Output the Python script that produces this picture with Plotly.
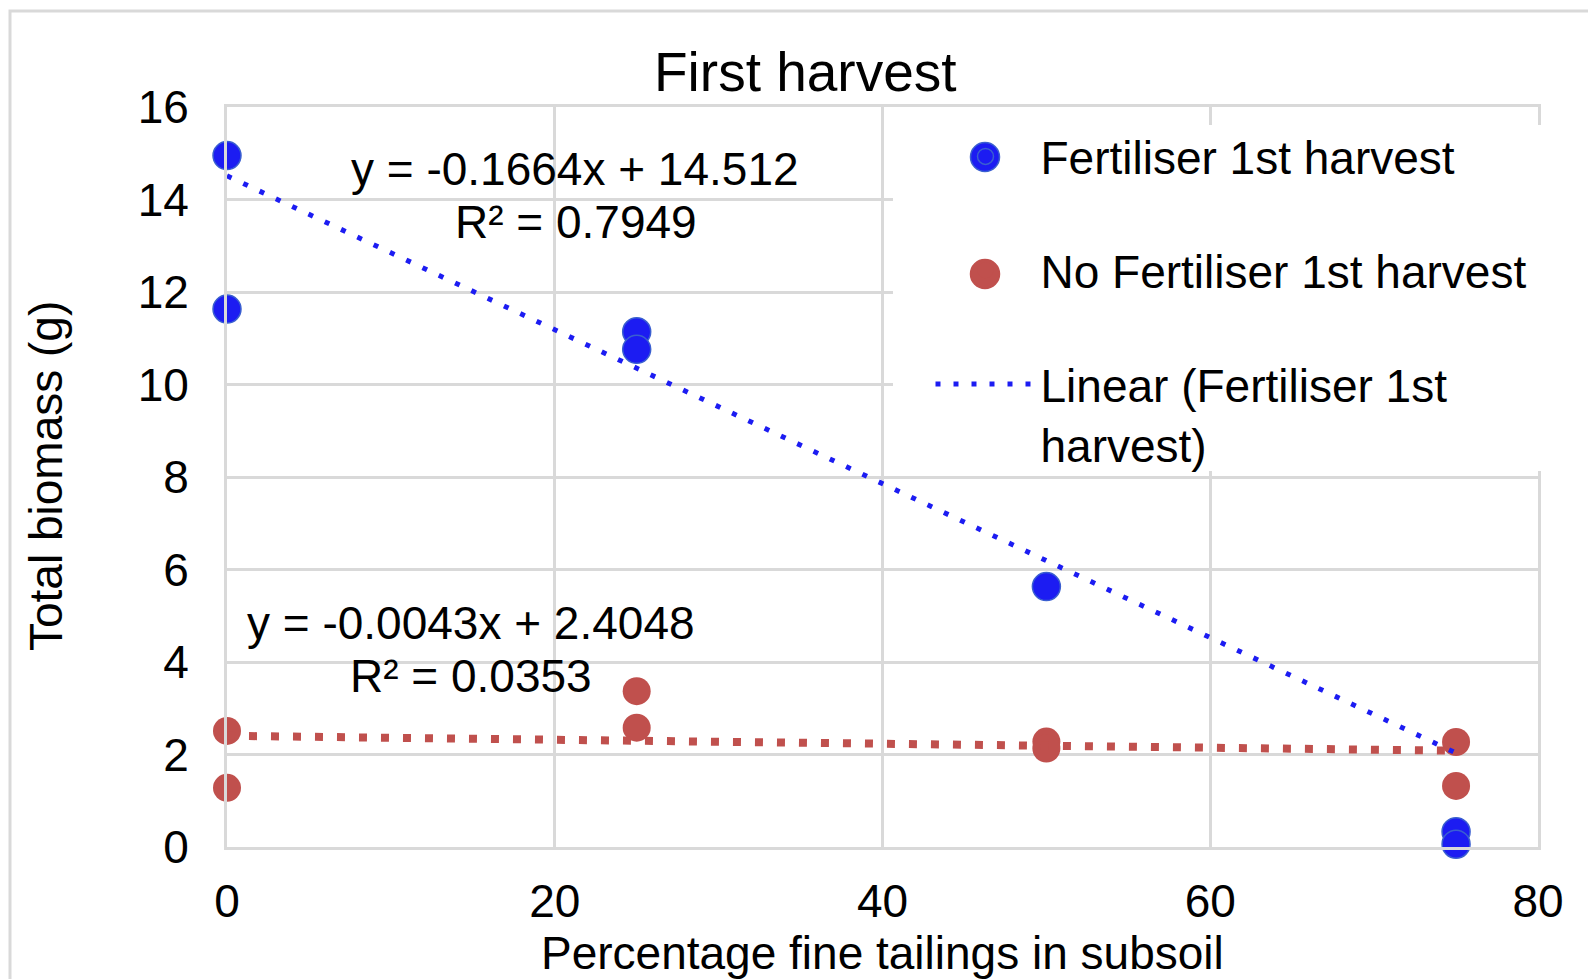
import plotly.graph_objects as go

# ---- data ----
pct_fert = [0, 0, 25, 25, 50, 75, 75]
biomass_fert = [14.95, 11.63, 11.14, 10.76, 5.63, 0.33, 0.06]

pct_nofert = [0, 0, 25, 25, 50, 50, 75, 75]
biomass_nofert = [2.51, 1.28, 3.37, 2.58, 2.28, 2.13, 2.27, 1.32]

trend_x = [0, 75]
fert_slope, fert_intercept, fert_r2 = -0.1664, 14.512, 0.7949
nofert_slope, nofert_intercept, nofert_r2 = -0.0043, 2.4048, 0.0353

x_ticks = [0, 20, 40, 60, 80]
y_ticks = [0, 2, 4, 6, 8, 10, 12, 14, 16]

fert_trend_y = [fert_slope * x + fert_intercept for x in trend_x]
nofert_trend_y = [nofert_slope * x + nofert_intercept for x in trend_x]

FONT = "Liberation Sans, Arial, sans-serif"
BLUE = "#1c1cf2"
BLUE_EDGE = "#3a5fd0"
RED = "#c0504d"
GRID = "#d9d9d9"

# plot area in pixels
W, H = 1588, 979
L, R, T, B = 227, 1538, 107, 847

def px(xp):
    return (xp - L) / (R - L)

def py(yp):
    return (B - yp) / (B - T)

fig = go.Figure()

fig.add_trace(go.Scatter(
    x=pct_fert, y=biomass_fert, mode="markers", name="Fertiliser 1st harvest",
    legendgroup="a", cliponaxis=False,
    marker=dict(size=28, color=BLUE, line=dict(color=BLUE_EDGE, width=1.5)),
))
fig.add_trace(go.Scatter(
    x=pct_nofert, y=biomass_nofert, mode="markers", name="No Fertiliser 1st harvest",
    legendgroup="b", cliponaxis=False,
    marker=dict(size=28, color=RED, line=dict(color=RED, width=0)),
))
fig.add_trace(go.Scatter(
    x=trend_x, y=fert_trend_y, mode="lines", name="Linear (Fertiliser 1st<br>harvest)",
    legendgroup="c", cliponaxis=False,
    line=dict(color=BLUE, width=5, dash="5px,13px"),
))
fig.add_trace(go.Scatter(
    x=trend_x, y=nofert_trend_y, mode="lines", name="Linear (No Fertiliser 1st harvest)",
    showlegend=False, cliponaxis=False,
    line=dict(color=RED, width=8, dash="8px,14px"),
))

annotations = [
    dict(text="First harvest", x=px(805), y=py(72), font=dict(size=55)),
    dict(text=f"y = {fert_slope}x + {fert_intercept}", x=px(575), y=py(169)),
    dict(text=f"R² = {fert_r2}", x=px(576), y=py(222)),
    dict(text=f"y = {nofert_slope}x + {nofert_intercept}", x=px(471), y=py(623)),
    dict(text=f"R² = {nofert_r2}", x=px(471), y=py(676)),
    dict(text="Percentage fine tailings in subsoil", x=px(882), y=py(953)),
    dict(text="Total biomass (g)", x=px(46), y=py(476), textangle=-90),
]
for a in annotations:
    a.update(xref="paper", yref="paper", showarrow=False, xanchor="center", yanchor="middle")
    a.setdefault("font", dict(size=46))
    a["font"].setdefault("color", "black")

# legend panel (white box hiding gridlines) and larger legend marker discs
LEG_X0, LEG_Y0, LEG_Y1 = 893, 125, 471
shapes = [
    dict(type="rect", xref="paper", yref="paper",
         x0=px(10), y0=-0.4, x1=1.2, y1=py(11),
         line=dict(color=GRID, width=3), fillcolor="rgba(0,0,0,0)", layer="below"),
    dict(type="rect", xref="paper", yref="paper",
         x0=px(LEG_X0), x1=px(1575), y0=py(LEG_Y1), y1=py(LEG_Y0),
         line=dict(width=0), fillcolor="white", layer="above"),
]
for cy, col, edge in [(157, BLUE, BLUE_EDGE), (274, RED, RED)]:
    r = 14.5
    cx = 985
    shapes.append(dict(type="circle", xref="paper", yref="paper",
                       x0=px(cx - r), x1=px(cx + r), y0=py(cy + r), y1=py(cy - r),
                       fillcolor=col, line=dict(color=edge, width=1.5), layer="above"))

fig.update_layout(
    width=W, height=H,
    margin=dict(l=L, r=W - R, t=T, b=H - B, pad=0),
    paper_bgcolor="white", plot_bgcolor="white",
    font=dict(family=FONT, size=46, color="black"),
    annotations=annotations,
    shapes=shapes,
    showlegend=True,
    legend=dict(
        x=px(930.5), xanchor="left", y=py(120), yanchor="top",
        bgcolor="rgba(0,0,0,0)", borderwidth=0,
        font=dict(size=46, color="black"),
        tracegroupgap=51, itemwidth=100,
        traceorder="grouped", valign="top",
    ),
)

fig.update_xaxes(
    range=[0, 80], tickvals=x_ticks, showgrid=True, gridcolor=GRID, gridwidth=3,
    zeroline=False, showline=True, mirror=True, linecolor=GRID, linewidth=3,
    ticks="", ticklabelstandoff=12, tickfont=dict(size=46),
)
fig.update_yaxes(
    range=[0, 16], tickvals=y_ticks, showgrid=True, gridcolor=GRID, gridwidth=3,
    zeroline=False, showline=True, mirror=True, linecolor=GRID, linewidth=3,
    ticks="", ticklabelstandoff=26, tickfont=dict(size=46),
)

fig.write_html("out.html")
